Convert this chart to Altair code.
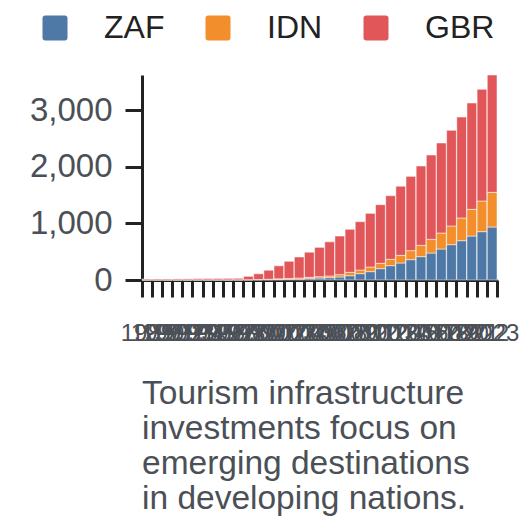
import altair as alt
import pandas as pd

years = list(range(1989, 2024))
zaf = [1, 1, 1, 1, 1, 1, 1, 1, 1, 1, 2, 3, 5, 7, 9, 14, 24, 35, 41, 53, 76, 112,
       147, 200, 253, 300, 359, 412, 476, 547, 624, 694, 776, 853, 935]
idn = [1, 1, 1, 1, 1, 2, 2, 2, 2, 3, 3, 6, 9, 13, 18, 21, 23, 24, 30, 41, 59, 64,
       82, 94, 112, 135, 159, 200, 242, 282, 329, 400, 471, 541, 612]
gbr = [16, 16, 16, 17, 18, 21, 23, 24, 25, 26, 60, 101, 159, 230, 303, 371, 444,
       517, 602, 682, 759, 853, 947, 1035, 1123, 1221, 1311, 1400, 1488, 1589,
       1688, 1782, 1877, 1971, 2071]
series = ["ZAF", "IDN", "GBR"]
colors = ["#4e79a7", "#f28e2b", "#e15759"]
caption = ["Tourism infrastructure", "investments focus on",
           "emerging destinations", "in developing nations."]

rows = []
for i, y in enumerate(years):
    for k, (name, vals) in enumerate(zip(series, [zaf, idn, gbr])):
        rows.append({"year": str(y), "country": name, "value": vals[i], "order": k})
df = pd.DataFrame(rows)
ymax = max(a + b + c for a, b, c in zip(zaf, idn, gbr))

FONT = "Liberation Sans"
LABEL = "#4b5057"
DARK = "#222222"
rounded = ("M -0.78 -1 L 0.78 -1 Q 1 -1 1 -0.78 L 1 0.78 Q 1 1 0.78 1 "
           "L -0.78 1 Q -1 1 -1 0.78 L -1 -0.78 Q -1 -1 -0.78 -1 Z")

chart = alt.Chart(df).mark_bar(stroke="white", strokeOpacity=0.5, strokeWidth=1).encode(
    x=alt.X("year:O", title=None,
            scale=alt.Scale(paddingInner=0.04, paddingOuter=0),
            axis=alt.Axis(labelAngle=0, labelFontSize=24, labelPadding=24,
                          labelOverlap=False, tickBand="extent", tickSize=17,
                          tickWidth=3, domainWidth=3, tickColor=DARK,
                          domainColor=DARK, labelColor=LABEL, labelFont=FONT)),
    y=alt.Y("value:Q", title=None, stack="zero",
            scale=alt.Scale(domain=[0, ymax], nice=False),
            axis=alt.Axis(values=[0, 1000, 2000, 3000], format=",d",
                          labelFontSize=33, labelPadding=13, tickSize=17,
                          tickWidth=3, domainWidth=3, tickColor=DARK,
                          domainColor=DARK, labelColor=LABEL, labelFont=FONT,
                          grid=False)),
    color=alt.Color("country:N", scale=alt.Scale(domain=series, range=colors),
                    legend=alt.Legend(title=None, orient="none", legendX=-103,
                                      legendY=-63, direction="horizontal",
                                      symbolType=rounded, symbolSize=625,
                                      symbolStrokeWidth=0, symbolOpacity=1,
                                      labelFontSize=32, labelFont=FONT,
                                      labelColor=DARK, labelOffset=33,
                                      columnPadding=37, padding=0)),
    order=alt.Order("order:Q"),
).properties(
    width=355, height=205,
    autosize=alt.AutoSizeParams(type="none"),
    padding={"left": 134, "top": 67, "right": 23, "bottom": 240},
    title=alt.TitleParams(text=caption, orient="bottom", anchor="start",
                          frame="group", fontSize=33.5, fontWeight="normal",
                          color=LABEL, lineHeight=35, offset=33, font=FONT),
).configure_view(strokeWidth=0)

chart.save("out.html", embed_options={"renderer": "svg", "actions": False})
